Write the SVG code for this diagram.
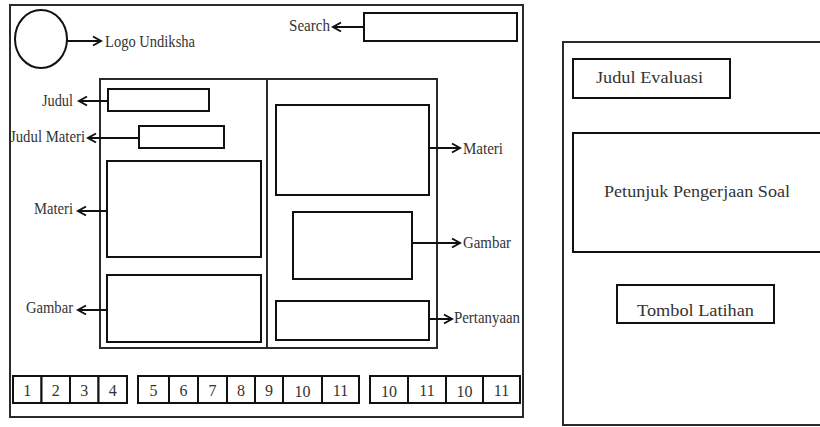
<svg xmlns="http://www.w3.org/2000/svg" width="820" height="427" viewBox="0 0 820 427">
<style>
.frame{fill:none;stroke:#2a2a2a;stroke-width:2}
.box{fill:#fff;stroke:#111;stroke-width:2}
.conn{fill:none;stroke:#111;stroke-width:2}
.t{font-family:"Liberation Serif","Times New Roman","DejaVu Serif",serif;font-size:17px;fill:#333}
.r{font-family:"Liberation Serif","Times New Roman","DejaVu Serif",serif;font-size:16px;fill:#333}
.n{font-family:"Liberation Serif","Times New Roman","DejaVu Serif",serif;font-size:16px;fill:#333;text-anchor:middle}
</style>
<defs>
<marker id="ah" markerUnits="userSpaceOnUse" markerWidth="12" markerHeight="12" refX="10" refY="6" orient="auto">
<path d="M2,1.5 L10,6 L2,10.5" fill="none" stroke="#111" stroke-width="2"/>
</marker>
</defs>
<rect width="820" height="427" fill="#fff"/>

<g id="page-left">
<rect class="frame" x="10" y="5" width="513" height="412"/>
</g>
<g id="logo">
<ellipse class="box" cx="41" cy="39" rx="26" ry="29"/>
<text class="t" x="105" y="47" textLength="90" lengthAdjust="spacingAndGlyphs">Logo Undiksha</text>
</g>
<g id="search">
<rect class="box" x="364" y="13" width="153" height="28"/>
<text class="t" x="289" y="31" textLength="41" lengthAdjust="spacingAndGlyphs">Search</text>
</g>
<g id="content">
<rect class="frame" x="100" y="79" width="337" height="269"/>
<line class="frame" x1="267" y1="79" x2="267" y2="348"/>
</g>
<g id="judul">
<rect class="box" x="108" y="89" width="101" height="22"/>
<text class="t" x="42" y="106" textLength="31" lengthAdjust="spacingAndGlyphs">Judul</text>
</g>
<g id="judul-materi">
<rect class="box" x="139" y="126" width="85" height="22"/>
<text class="t" x="10" y="142" textLength="75" lengthAdjust="spacingAndGlyphs">Judul Materi</text>
</g>
<g id="materi-left">
<rect class="box" x="107" y="161" width="154" height="96"/>
<text class="t" x="34" y="214" textLength="39" lengthAdjust="spacingAndGlyphs">Materi</text>
</g>
<g id="gambar-left">
<rect class="box" x="107" y="275" width="154" height="67"/>
<text class="t" x="26" y="313" textLength="47" lengthAdjust="spacingAndGlyphs">Gambar</text>
</g>
<g id="materi-right">
<rect class="box" x="276" y="105" width="153" height="90"/>
<text class="t" x="463" y="154" textLength="40" lengthAdjust="spacingAndGlyphs">Materi</text>
</g>
<g id="gambar-right">
<rect class="box" x="293" y="212" width="119" height="67"/>
<text class="t" x="463" y="248" textLength="48" lengthAdjust="spacingAndGlyphs">Gambar</text>
</g>
<g id="pertanyaan">
<rect class="box" x="276" y="301" width="153" height="39"/>
<text class="t" x="454" y="323" textLength="66" lengthAdjust="spacingAndGlyphs">Pertanyaan</text>
</g>
<g id="pagination">
<rect class="box" x="13" y="376" width="28.5" height="27"/>
<rect class="box" x="41.5" y="376" width="28.5" height="27"/>
<rect class="box" x="70" y="376" width="28.5" height="27"/>
<rect class="box" x="98.5" y="376" width="28.5" height="27"/>
<rect class="box" x="138" y="376" width="31" height="27"/>
<rect class="box" x="169" y="376" width="29" height="27"/>
<rect class="box" x="198" y="376" width="29" height="27"/>
<rect class="box" x="227" y="376" width="28" height="27"/>
<rect class="box" x="255" y="376" width="28" height="27"/>
<rect class="box" x="283" y="376" width="39" height="27"/>
<rect class="box" x="322" y="376" width="37" height="27"/>
<rect class="box" x="370" y="376" width="38" height="27"/>
<rect class="box" x="408" y="376" width="38" height="27"/>
<rect class="box" x="446" y="376" width="37" height="27"/>
<rect class="box" x="483" y="376" width="37" height="27"/>
<text class="n" x="27.2" y="396">1</text>
<text class="n" x="55.7" y="396">2</text>
<text class="n" x="84.2" y="396">3</text>
<text class="n" x="112.7" y="396">4</text>
<text class="n" x="153.5" y="396">5</text>
<text class="n" x="183.5" y="396">6</text>
<text class="n" x="212.5" y="396">7</text>
<text class="n" x="241" y="396">8</text>
<text class="n" x="269" y="396">9</text>
<text class="n" x="302.5" y="397">10</text>
<text class="n" x="340.5" y="396">11</text>
<text class="n" x="389" y="397">10</text>
<text class="n" x="427" y="396">11</text>
<text class="n" x="464.5" y="397">10</text>
<text class="n" x="501.5" y="396">11</text>
</g>

<g id="page-right">
<rect class="frame" x="563" y="42" width="270" height="383"/>
</g>
<g id="judul-evaluasi">
<rect class="box" x="573" y="59" width="157" height="39"/>
<text class="r" x="596" y="83" textLength="107" lengthAdjust="spacingAndGlyphs">Judul Evaluasi</text>
</g>
<g id="petunjuk">
<rect class="box" x="573" y="133" width="260" height="119"/>
<text class="r" x="604" y="197" textLength="186" lengthAdjust="spacingAndGlyphs">Petunjuk Pengerjaan Soal</text>
</g>
<g id="tombol-latihan">
<rect class="box" x="617" y="285" width="157" height="38"/>
<text class="r" x="637" y="316" textLength="117" lengthAdjust="spacingAndGlyphs">Tombol Latihan</text>
</g>

<g id="connectors">
<line class="conn" x1="67" y1="41" x2="101" y2="41" marker-end="url(#ah)"/>
<line class="conn" x1="364" y1="27" x2="333" y2="27" marker-end="url(#ah)"/>
<line class="conn" x1="108" y1="101" x2="79" y2="101" marker-end="url(#ah)"/>
<line class="conn" x1="139" y1="138" x2="88" y2="138" marker-end="url(#ah)"/>
<line class="conn" x1="107" y1="211" x2="78" y2="211" marker-end="url(#ah)"/>
<line class="conn" x1="107" y1="310" x2="78" y2="310" marker-end="url(#ah)"/>
<line class="conn" x1="429" y1="148" x2="460" y2="148" marker-end="url(#ah)"/>
<line class="conn" x1="412" y1="243" x2="460" y2="243" marker-end="url(#ah)"/>
<line class="conn" x1="429" y1="319" x2="452" y2="319" marker-end="url(#ah)"/>
</g>
</svg>
